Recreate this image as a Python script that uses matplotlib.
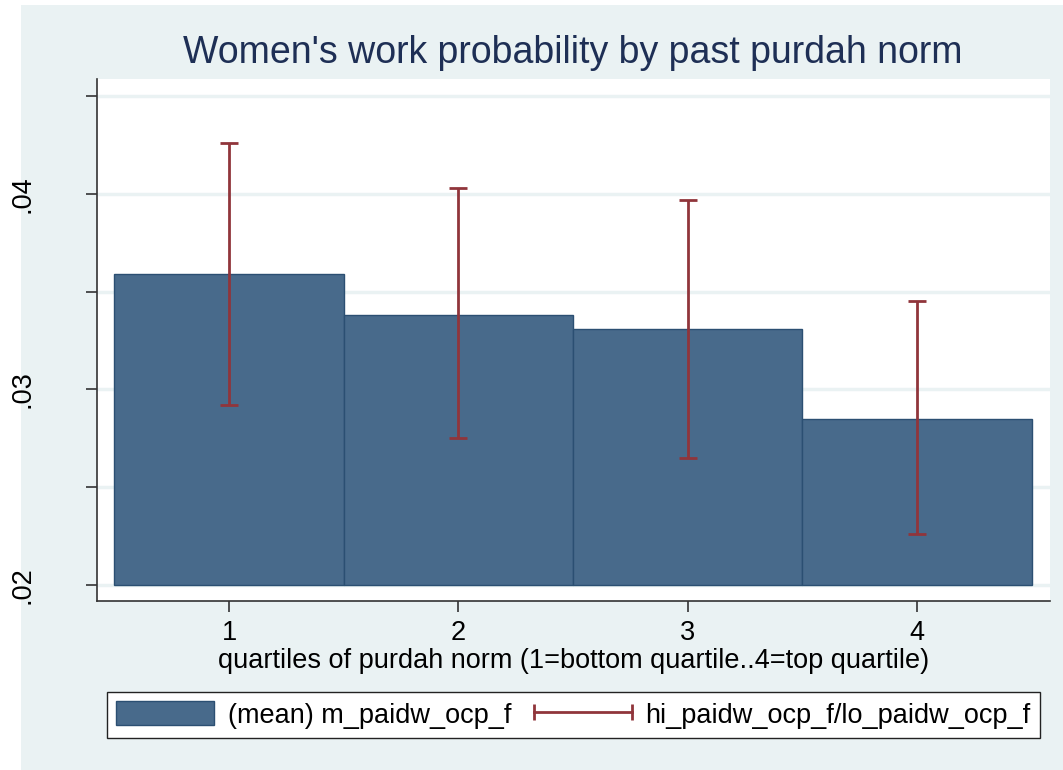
import matplotlib.pyplot as plt
from matplotlib.lines import Line2D
from matplotlib.patches import Patch, Rectangle
from matplotlib.legend_handler import HandlerLine2D

plt.rcParams['font.family'] = ['Liberation Sans', 'DejaVu Sans']

# data
quartiles = [1, 2, 3, 4]
mean_paidw = [0.0359, 0.0338, 0.0331, 0.0285]
hi_paidw = [0.0426, 0.0403, 0.0397, 0.0345]
lo_paidw = [0.0292, 0.0275, 0.0265, 0.0226]
yticks = [0.020, 0.025, 0.030, 0.035, 0.040, 0.045]
ytick_labels = ['.02', '', '.03', '', '.04', '']

bar_color = '#486A8B'
bar_edge = '#2B4F72'
err_color = '#90353B'
bg_color = '#EAF2F3'
title_color = '#1E2F55'

fig = plt.figure(figsize=(10.63, 7.70), dpi=100)
fig.patch.set_facecolor('white')
# stata-like light graph region
fig.patches.append(Rectangle((21 / 1063, 0.0), 1 - 21 / 1063, 1 - 5 / 770,
                             transform=fig.transFigure, facecolor=bg_color,
                             edgecolor='none', zorder=-10))

ax = fig.add_axes([97 / 1063, (770 - 601) / 770, (1050 - 97) / 1063, (601 - 79) / 770])
ax.set_facecolor('white')

base = 0.02
ax.bar(quartiles, [m - base for m in mean_paidw], width=1.0, bottom=base,
       color=bar_color, edgecolor=bar_edge, linewidth=1.0, zorder=2)
ax.errorbar(quartiles, [(h + l) / 2 for h, l in zip(hi_paidw, lo_paidw)],
            yerr=[[(h - l) / 2 for h, l in zip(hi_paidw, lo_paidw)],
                  [(h - l) / 2 for h, l in zip(hi_paidw, lo_paidw)]],
            fmt='none', ecolor=err_color, elinewidth=2, capsize=6.5, capthick=2, zorder=3)

ax.set_xlim(0.4244, 4.580)
ax.set_ylim(0.01918, 0.04588)
ax.set_yticks(yticks)
ax.set_yticklabels(ytick_labels, rotation=90, va='center')
ax.set_xticks(quartiles)
ax.grid(axis='y', color=bg_color, linewidth=2.5, zorder=0)
ax.set_axisbelow(True)

for s in ['top', 'right']:
    ax.spines[s].set_visible(False)
for s in ['left', 'bottom']:
    ax.spines[s].set_color('#333333')
    ax.spines[s].set_linewidth(1.2)
ax.tick_params(axis='y', length=8, width=1.2, color='#333333', labelsize=19.5, pad=36)
ax.tick_params(axis='x', length=8, width=1.2, color='#333333', labelsize=19.5, pad=6)

ax.set_xlabel('quartiles of purdah norm (1=bottom quartile..4=top quartile)',
              fontsize=19.5, labelpad=1)
fig.text(573 / 1063, 1 - 53 / 770, "Women's work probability by past purdah norm",
         fontsize=27, color=title_color, ha='center', va='center')

handles = [Patch(facecolor=bar_color, edgecolor=bar_edge),
           Line2D([], [], color=err_color, lw=2, marker='|', markersize=12, mew=2)]
labels = ['(mean) m_paidw_ocp_f', 'hi_paidw_ocp_f/lo_paidw_ocp_f']
leg = fig.legend(handles, labels, loc='lower left', ncol=2, mode='expand',
                 bbox_to_anchor=(107 / 1063, 32 / 770, 933 / 1063, 50 / 770),
                 fontsize=19.5, numpoints=2, frameon=True, fancybox=False,
                 framealpha=1, handlelength=3.6, handleheight=1.0,
                 handletextpad=0.5, borderpad=0.35, borderaxespad=0,
                 handler_map={Line2D: HandlerLine2D(marker_pad=0)})
leg.get_frame().set_edgecolor('#222222')
leg.get_frame().set_facecolor('white')
leg.get_frame().set_linewidth(1.0)

plt.savefig('out.png', dpi=100)
plt.close()
